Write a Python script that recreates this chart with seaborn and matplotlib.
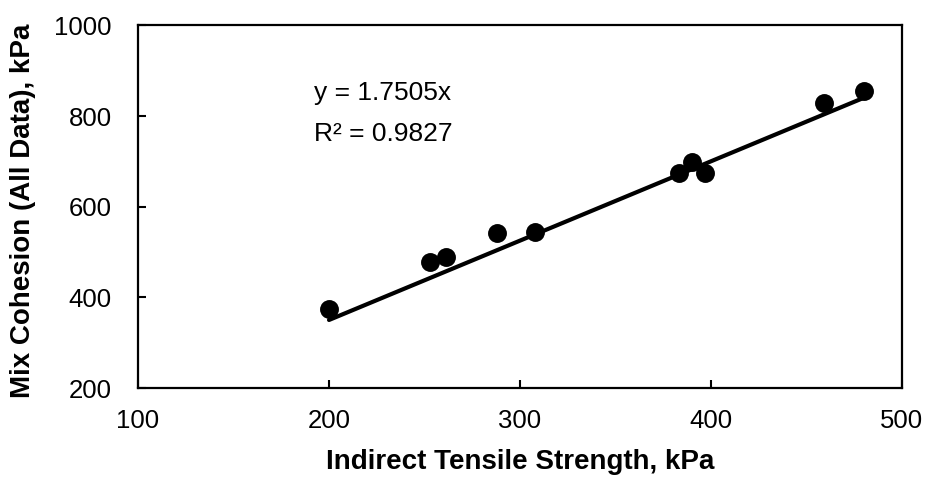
import numpy as np
import pandas as pd
import matplotlib
matplotlib.use("Agg")
import matplotlib.pyplot as plt
import seaborn as sns

# Indirect tensile strength vs. mix cohesion
its_kpa = [200, 253, 261, 288, 308, 383, 390, 397, 459, 480]
cohesion_kpa = [375, 479, 490, 542, 544, 674, 698, 674, 829, 855]

# Trendline forced through the origin
slope = 1.7505
r_squared = 0.9827

x_ticks = [100, 200, 300, 400, 500]
y_ticks = [200, 400, 600, 800, 1000]

df = pd.DataFrame({"its": its_kpa, "cohesion": cohesion_kpa})
fit_x = np.array([min(its_kpa), max(its_kpa)])
fit = pd.DataFrame({"its": fit_x, "cohesion": slope * fit_x})

sns.set_theme(style="white")
plt.rcParams["font.family"] = ["Liberation Sans", "DejaVu Sans"]

fig = plt.figure(figsize=(9.27, 4.82), dpi=100)
ax = fig.add_axes([0.1489, 0.195, 0.8241, 0.7523])

sns.lineplot(data=fit, x="its", y="cohesion", ax=ax, color="black",
             linewidth=3.0, zorder=2)
sns.scatterplot(data=df, x="its", y="cohesion", ax=ax, color="black",
                s=185, edgecolor="black", linewidth=0, zorder=3)

ax.set_xlim(100, 500)
ax.set_ylim(200, 1000)
ax.set_xticks(x_ticks)
ax.set_yticks(y_ticks)
ax.set_xticklabels([str(t) for t in x_ticks])
ax.set_yticklabels([str(t) for t in y_ticks])

for side in ["left", "bottom", "right", "top"]:
    ax.spines[side].set_visible(True)
    ax.spines[side].set_color("black")
    ax.spines[side].set_linewidth(1.6)

ax.tick_params(axis="both", which="major", direction="in", length=6,
               width=1.5, color="black", labelsize=18.5, labelcolor="black")
ax.tick_params(axis="x", pad=15)
ax.tick_params(axis="y", pad=19)
ax.tick_params(top=False, right=False, left=True, bottom=True)

ax.set_xlabel("Indirect Tensile Strength, kPa", fontsize=20,
              fontweight="bold", color="black")
ax.set_ylabel("Mix Cohesion (All Data), kPa", fontsize=20,
              fontweight="bold", color="black")
ax.xaxis.set_label_coords(0.5, -0.168)
ax.yaxis.set_label_coords(-0.134, 0.49)

ax.text(192, 850, f"y = {slope}x", fontsize=19, color="black",
        ha="left", va="center")
ax.text(192, 760, f"R² = {r_squared}", fontsize=19, color="black",
        ha="left", va="center")

ax.grid(False)
fig.savefig("out.png", dpi=100, facecolor="white")
